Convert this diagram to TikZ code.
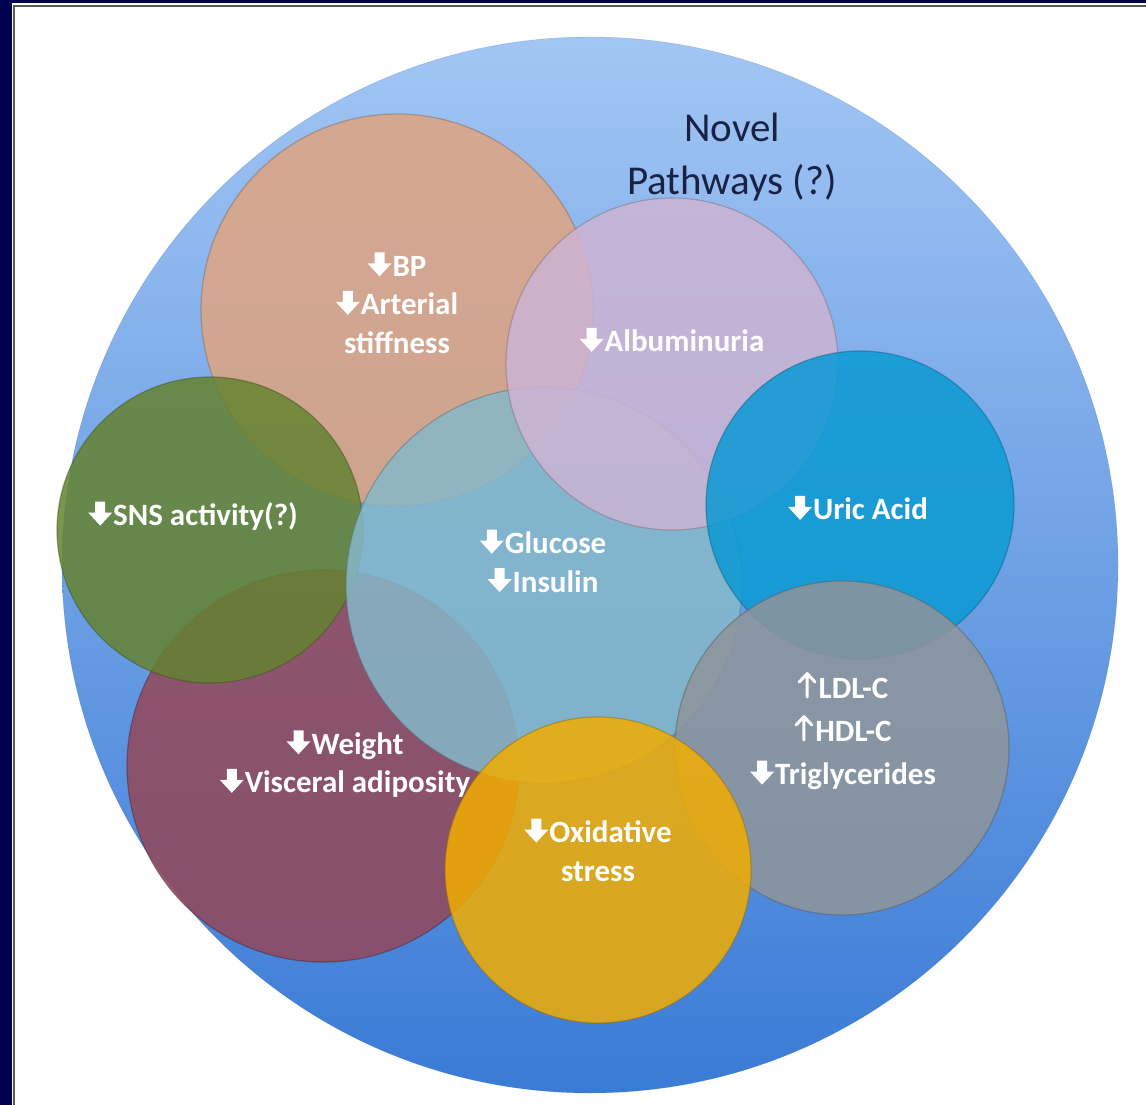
\documentclass[tikz,border=0pt]{standalone}
\usepackage{fontspec}
\setmainfont{Carlito}
\definecolor{navyframe}{HTML}{000050}
\definecolor{skytop}{HTML}{A2C6F4}
\definecolor{skybot}{HTML}{3A7BD6}
\definecolor{tanc}{HTML}{DFA480}
\definecolor{lavc}{HTML}{CDB4D3}
\definecolor{olivec}{HTML}{658330}
\definecolor{icec}{HTML}{86B8C9}
\definecolor{cyanc}{HTML}{0A9AD4}
\definecolor{slatec}{HTML}{8F959A}
\definecolor{maroonc}{HTML}{944759}
\definecolor{goldc}{HTML}{F2AD00}
\definecolor{titlec}{HTML}{1A2244}
% thick white down arrow and thin up arrow used as inline glyphs
\newsavebox\dnbox
\newsavebox\upbox
\sbox\dnbox{\begin{pgfpicture}
  \pgfsetfillcolor{white}
  \pgfpathmoveto{\pgfpoint{-5pt}{23pt}}\pgfpathlineto{\pgfpoint{5pt}{23pt}}
  \pgfpathlineto{\pgfpoint{5pt}{12pt}}\pgfpathlineto{\pgfpoint{12pt}{12pt}}
  \pgfpathlineto{\pgfpoint{0pt}{-1pt}}\pgfpathlineto{\pgfpoint{-12pt}{12pt}}
  \pgfpathlineto{\pgfpoint{-5pt}{12pt}}\pgfpathclose
  \pgfusepath{fill}
\end{pgfpicture}}
\sbox\upbox{\begin{pgfpicture}
  \pgfsetstrokecolor{white}\pgfsetlinewidth{3pt}
  \pgfsetroundcap\pgfsetroundjoin
  \pgfpathmoveto{\pgfpoint{0pt}{-1pt}}\pgfpathlineto{\pgfpoint{0pt}{22pt}}
  \pgfpathmoveto{\pgfpoint{-8pt}{14pt}}\pgfpathlineto{\pgfpoint{0pt}{22.5pt}}
  \pgfpathlineto{\pgfpoint{8pt}{14pt}}
  \pgfusepath{stroke}
\end{pgfpicture}}
\newcommand\dn{\usebox\dnbox\hspace{1pt}}
\newcommand\up{\usebox\upbox\hspace{2pt}}
\begin{document}
\begin{tikzpicture}[x=1pt,y=-1pt,
  bubble/.style={circle, inner sep=0pt, minimum size=#1, fill opacity=0.85,
                 draw opacity=0.45, line width=1.2pt},
  lbl/.style={text=white, font=\bfseries\fontsize{31}{38.5}\selectfont, align=center, inner sep=0pt},
  title/.style={text=titlec, font=\fontsize{41}{53}\selectfont, align=center, inner sep=0pt}]
\useasboundingbox (0,0) rectangle (1146,1105);
\fill[white] (0,0) rectangle (1146,1105);
% frame
\fill[navyframe] (0,0) rectangle (12,1105);
\fill[navyframe] (0,0) rectangle (1146,3);
\draw[gray!70!black,line width=2pt] (13.5,1105) -- (13.5,6.5) -- (1146,6.5);
% outer circle
\node[circle, inner sep=0pt, minimum size=1056, top color=skytop, bottom color=skybot,
      draw=skybot!80!black, draw opacity=0.3] (outer) at (590,565) {};
\node[title] (novel) at (732,157) {Novel\\Pathways (?)};
% overlapping bubbles
\node[bubble=392, fill=tanc, draw=tanc!60!black] (bp) at (397,310) {};
\node[bubble=392, fill=maroonc, draw=maroonc!50!black] (wt) at (323,766) {};
\node[bubble=306, fill=olivec, draw=olivec!60!black] (sns) at (210,530) {};
\node[bubble=396, fill=icec, draw=icec!60!black] (glu) at (544,585) {};
\node[bubble=332, fill=lavc, draw=lavc!60!black] (alb) at (672,364) {};
\node[bubble=308, fill=cyanc, draw=cyanc!60!black] (uric) at (860,505) {};
\node[bubble=334, fill=slatec, draw=slatec!60!black] (lip) at (842,748) {};
\node[bubble=306, fill=goldc, draw=goldc!60!black] (ox) at (598,870) {};
% labels
\node[lbl] (bpl) at (397,303) {\dn BP\\\dn Arterial\\stiffness};
\node[lbl] (albl) at (672,340) {\dn Albuminuria};
\node[lbl] (snsl) at (193,516) {\dn SNS activity(?)};
\node[lbl] (glul) at (543,561) {\dn Glucose\\\dn Insulin};
\node[lbl] (uricl) at (858,508) {\dn Uric Acid};
\node[lbl, font=\bfseries\fontsize{31}{43}\selectfont] (lipl) at (843,731) {\up LDL-C\\\up HDL-C\\\dn Triglycerides};
\node[lbl] (wtl) at (345,764) {\dn Weight\\\dn Visceral adiposity};
\node[lbl] (oxl) at (598,850) {\dn Oxidative\\stress};
\end{tikzpicture}
\end{document}
